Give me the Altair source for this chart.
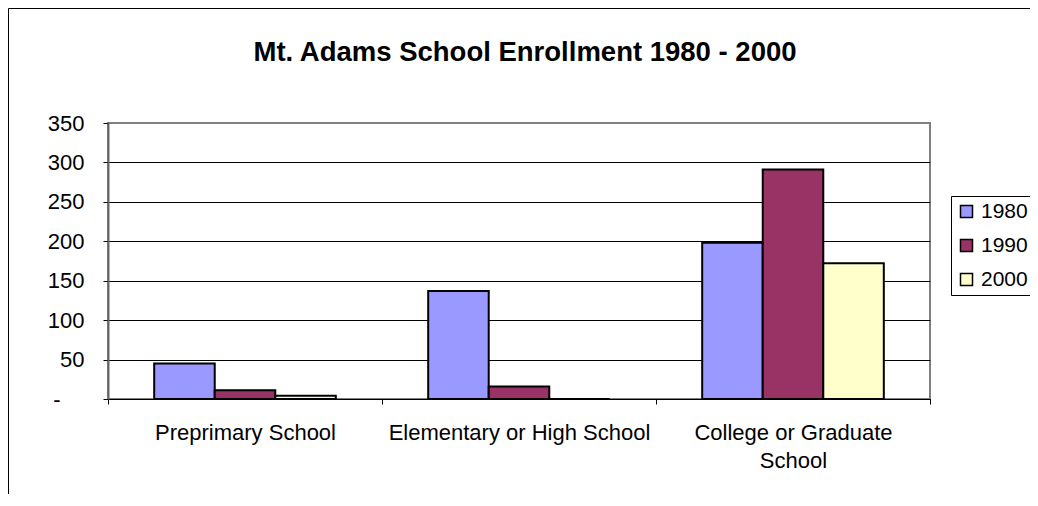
import altair as alt
import pandas as pd

categories = ["Preprimary School", "Elementary or High School", "College or Graduate School"]
years = ["1980", "1990", "2000"]
v1980 = [45, 137, 198]
v1990 = [11, 16, 291]
v2000 = [4, 0, 172]
colors = ["#9999FF", "#993366", "#FFFFCC"]
y_ticks = [0, 50, 100, 150, 200, 250, 300, 350]
title_text = "Mt. Adams School Enrollment 1980 - 2000"

rows = []
for i, c in enumerate(categories):
    for yr, vals in zip(years, [v1980, v1990, v2000]):
        rows.append({"category": c, "year": yr, "value": vals[i]})
df = pd.DataFrame(rows)

FONT = "Liberation Sans"

x_label_expr = ("datum.label == 'College or Graduate School' ? "
                "['College or Graduate', 'School'] : datum.label")
y_label_expr = "datum.value == 0 ? '-' : datum.label"

bars = alt.Chart(df).mark_bar(stroke="black", strokeWidth=2).encode(
    x=alt.X(
        "category:N", sort=categories, title=None,
        scale=alt.Scale(paddingInner=0, paddingOuter=0),
        axis=alt.Axis(
            labelAngle=0, tickBand="extent", tickSize=5, tickColor="black",
            domainColor="black", domainWidth=1, labelFontSize=22,
            labelPadding=18, labelLineHeight=28, labelColor="black",
            labelExpr=x_label_expr, labelLimit=0, grid=False,
            labelFont=FONT,
        ),
    ),
    xOffset=alt.XOffset(
        "year:N", sort=years,
        scale=alt.Scale(paddingInner=0, paddingOuter=0.763),
    ),
    y=alt.Y(
        "value:Q", title=None,
        scale=alt.Scale(domain=[0, 350], nice=False),
        axis=alt.Axis(
            values=y_ticks, labelExpr=y_label_expr, tickSize=5,
            tickColor="black", domainColor="#666666", domainWidth=2,
            grid=True,
            gridColor={"condition": {"test": "datum.value == 350", "value": "#808080"},
                       "value": "black"},
            gridWidth=1,
            labelFontSize=22,
            labelPadding={"condition": {"test": "datum.value == 0", "value": 43},
                          "value": 19},
            labelColor="black",
            labelFont=FONT,
        ),
    ),
    fill=alt.Fill(
        "year:N",
        scale=alt.Scale(domain=years, range=colors),
        legend=alt.Legend(
            title=None, orient="none", legendX=843, legendY=73,
            symbolType="square", symbolSize=144,
            symbolStrokeColor="black", symbolStrokeWidth=1.5,
            labelFontSize=21, labelOffset=4, labelColor="black",
            labelFont=FONT, padding=5, rowPadding=12,
            strokeColor="black", fillColor="white",
        ),
    ),
)

frame = alt.Chart(alt.Data(values=[{}])).mark_rect(
    fill="transparent", stroke="black", strokeWidth=1
).encode(
    x=alt.value(-99.5), y=alt.value(-114.5),
    x2=alt.value(1200), y2=alt.value(600),
)

chart = alt.layer(frame, bars).properties(
    width=822,
    height=276,
    autosize="none",
    padding={"left": 100, "top": 115, "right": 100, "bottom": 95},
    title=alt.TitleParams(
        title_text, fontSize=27.5, fontWeight="bold", font=FONT,
        anchor="middle", frame="group", dx=6, dy=80, offset=0,
        baseline="alphabetic", color="black",
    ),
).configure(
    font=FONT,
    background="white",
).configure_view(
    stroke="#808080", strokeWidth=2,
)

chart.save("out.html", embed_options={"renderer": "svg", "actions": False})
